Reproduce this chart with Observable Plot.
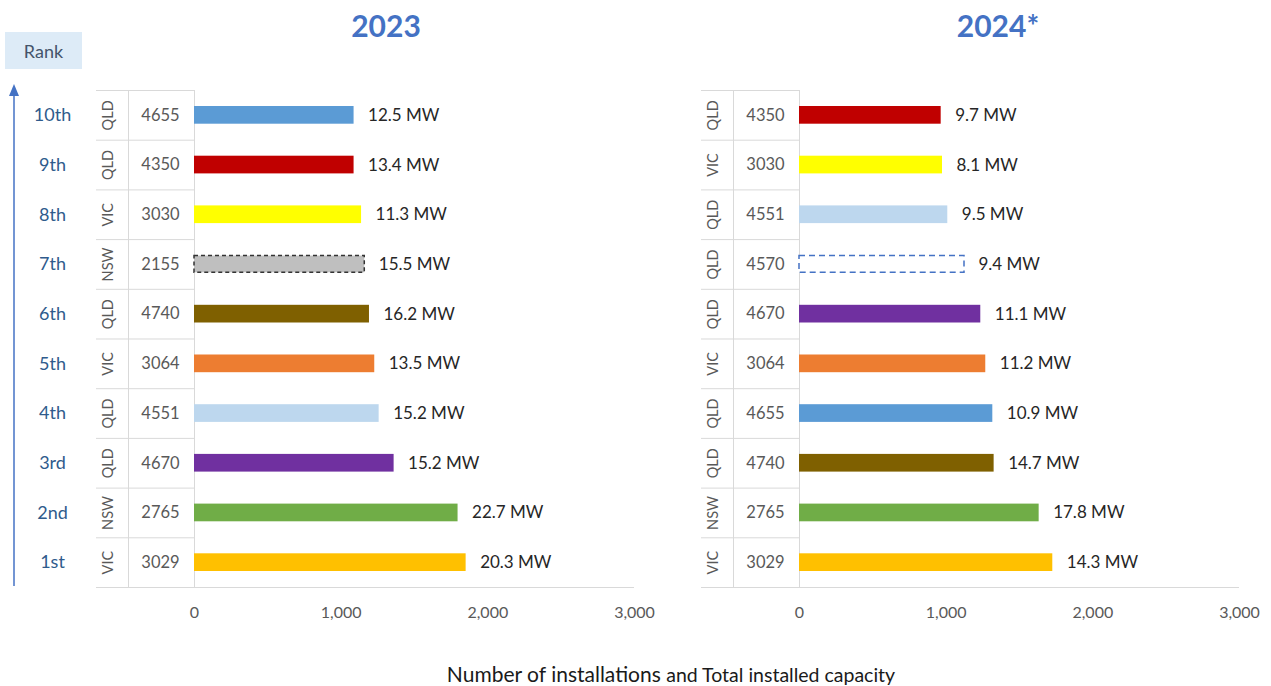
<!DOCTYPE html>
<html>
<head>
<meta charset="utf-8">
<script src="https://cdn.jsdelivr.net/npm/d3@7"></script>
<script src="https://cdn.jsdelivr.net/npm/@observablehq/plot@0.6"></script>
<style>
  html, body { margin: 0; padding: 0; background: #fff; }
  #root { position: relative; width: 1271px; height: 686px; font-family: Lato, "Open Sans", sans-serif; overflow: hidden; }
  .abs { position: absolute; }
  .title { font-weight: bold; font-size: 30px; color: #4472c4; transform: translateX(-50%); white-space: nowrap; line-height: 1; }
  .rankbox { left: 5px; top: 32px; width: 77px; height: 37px; background: #ddebf7; color: #44546a; font-size: 18px; display: flex; align-items: center; justify-content: center; }
  .caption { top: 661px; left: 671px; transform: translateX(-50%); white-space: nowrap; color: #1a1a1a; font-size: 21px; }
  .caption .small { font-size: 19.5px; }
</style>
</head>
<body>
<div id="root">
  <div class="abs title" style="left:386px; top:10px;">2023</div>
  <div class="abs title" style="left:998px; top:10px;">2024*</div>
  <div class="abs rankbox">Rank</div>
  <svg class="abs" style="left:0;top:0" width="30" height="600">
    <line x1="14" y1="586" x2="14" y2="90" stroke="#4472c4" stroke-width="1.5"/>
    <path d="M9,96 L14,84 L19,96 Z" fill="#4472c4"/>
  </svg>
  <div id="p1" class="abs" style="left:0;top:0"></div>
  <div id="p2" class="abs" style="left:660px;top:0"></div>
  <div class="abs caption">Number of installations <span class="small">and Total installed capacity</span></div>
</div>
<script>
// ---- data ----
const ranks = ["1st", "2nd", "3rd", "4th", "5th", "6th", "7th", "8th", "9th", "10th"];

const states2023 = ["VIC", "NSW", "QLD", "QLD", "VIC", "QLD", "NSW", "VIC", "QLD", "QLD"];
const postcodes2023 = ["3029", "2765", "4670", "4551", "3064", "4740", "2155", "3030", "4350", "4655"];
const installs2023 = [1852, 1797, 1361, 1259, 1229, 1193, 1161, 1139, 1088, 1088];
const mw2023 = ["20.3", "22.7", "15.2", "15.2", "13.5", "16.2", "15.5", "11.3", "13.4", "12.5"];

const states2024 = ["VIC", "NSW", "QLD", "QLD", "VIC", "QLD", "QLD", "QLD", "VIC", "QLD"];
const postcodes2024 = ["3029", "2765", "4740", "4655", "3064", "4670", "4570", "4551", "3030", "4350"];
const installs2024 = [1727, 1634, 1327, 1318, 1270, 1236, 1125, 1011, 975, 966];
const mw2024 = ["14.3", "17.8", "14.7", "10.9", "11.2", "11.1", "9.4", "9.5", "8.1", "9.7"];

const xTicks = [0, 1000, 2000, 3000];

const postcodeColors = {
  "4655": "#5b9bd5", "4350": "#c00000", "3030": "#ffff00", "2155": "#bfbfbf",
  "4740": "#7f6000", "3064": "#ed7d31", "4551": "#bdd7ee", "4670": "#7030a0",
  "2765": "#70ad47", "3029": "#ffc000", "4570": "#ffffff"
};
const dashedStroke = { "2155": "#333333", "4570": "#4472c4" };
const dashArray = { "2155": "4,3", "4570": "6,4" };

function rows(states, postcodes, installs, mw) {
  return ranks.map((r, i) => ({ rank: r, state: states[i], postcode: postcodes[i], installs: installs[i], mw: mw[i] }));
}
const data2023 = rows(states2023, postcodes2023, installs2023, mw2023);
const data2024 = rows(states2024, postcodes2024, installs2024, mw2024);

const H = 630, MT = 90, MB = 43;
const band = (H - MT - MB) / ranks.length;
const grid = "#d9d9d9";
const grey = "#595959";

function panel(data, width, marginLeft, marginRight, showRanks) {
  const solid = data.filter(d => !dashedStroke[d.postcode]);
  const dashed = data.filter(d => dashedStroke[d.postcode]);
  const inner = width - marginLeft - marginRight;
  const marks = [
    // table row separators
    Plot.ruleY(data, { y: "rank", dy: band / 2, stroke: grid, insetLeft: -98, insetRight: inner }),
    Plot.ruleY([ranks[ranks.length - 1]], { y: d => d, dy: -band / 2, stroke: grid, insetLeft: -98, insetRight: inner }),
    // bottom axis line
    Plot.ruleY([ranks[0]], { y: d => d, dy: band / 2, stroke: grid, insetLeft: -98 }),
    // vertical separators
    Plot.ruleX([0], { stroke: grid }),
    Plot.ruleX([0], { stroke: grid, dx: -66 }),
    // bars
    Plot.barX(solid, { x: "installs", y: "rank", fill: d => postcodeColors[d.postcode], insetTop: 16, insetBottom: 16 }),
    ...dashed.map(d => Plot.barX([d], { x: "installs", y: "rank", fill: postcodeColors[d.postcode], stroke: dashedStroke[d.postcode], strokeDasharray: dashArray[d.postcode], strokeWidth: 1.5, insetTop: 16.5, insetBottom: 16.5 })),
    // value labels
    Plot.text(data, { x: "installs", y: "rank", text: d => d.mw + " MW", textAnchor: "start", dx: 14, fontSize: 17, fill: "#262626" }),
    // state labels (rotated)
    Plot.text(data, { y: "rank", text: "state", frameAnchor: "left", dx: -86, rotate: -90, textAnchor: "middle", fontSize: 14.5, fill: grey }),
    // postcode labels
    Plot.text(data, { y: "rank", text: "postcode", frameAnchor: "left", dx: -34, textAnchor: "middle", fontSize: 16.5, fill: grey }),
    Plot.axisX({ ticks: xTicks, tickSize: 0, tickPadding: 19, tickFormat: d3.format(","), fontSize: 16, color: grey, label: null })
  ];
  if (showRanks) {
    marks.push(Plot.text(data, { y: "rank", text: "rank", frameAnchor: "left", dx: -142, textAnchor: "middle", fontSize: 18, fill: "#2f5b8c" }));
  }
  return Plot.plot({
    width, height: H,
    marginTop: MT, marginBottom: MB, marginLeft, marginRight,
    style: { fontFamily: "Lato, 'Open Sans', sans-serif", background: "transparent", overflow: "visible" },
    x: { domain: [0, 3000], axis: null },
    y: { domain: ranks.slice().reverse(), padding: 0, round: false, axis: null },
    marks
  });
}

document.getElementById("p1").appendChild(panel(data2023, 660, 194, 26, true));
document.getElementById("p2").appendChild(panel(data2024, 611, 139, 32, false));
</script>
</body>
</html>
